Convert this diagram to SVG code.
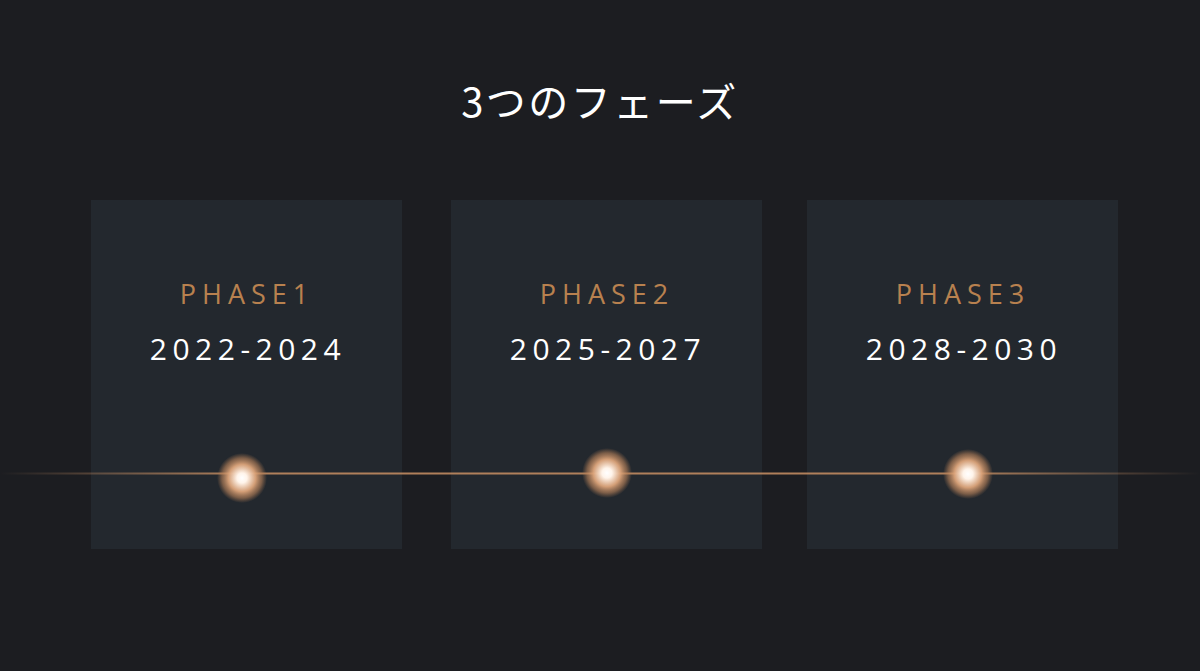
<svg xmlns="http://www.w3.org/2000/svg" width="1200" height="671" viewBox="0 0 1200 671">
<style>
.card{fill:#23282e}
.phase{font-family:"Open Sans","Noto Sans",sans-serif;font-size:27px;fill:#b8814f;letter-spacing:6px;text-anchor:middle}
.year{font-family:"Open Sans","Noto Sans",sans-serif;font-size:30px;font-weight:500;fill:#ffffff;letter-spacing:5.5px;text-anchor:middle}
.title{font-family:"Noto Sans CJK JP",sans-serif;font-size:40px;fill:#ffffff;letter-spacing:2.5px;text-anchor:middle}
</style>
<defs>
<linearGradient id="lineGrad" x1="0" y1="0" x2="1200" y2="0" gradientUnits="userSpaceOnUse">
<stop offset="0" stop-color="#c08a60" stop-opacity="0"/>
<stop offset="0.2" stop-color="#c08a60" stop-opacity="0.9"/>
<stop offset="0.8" stop-color="#c08a60" stop-opacity="0.9"/>
<stop offset="1" stop-color="#c08a60" stop-opacity="0"/>
</linearGradient>
<radialGradient id="glow">
<stop offset="0" stop-color="#ffffff"/>
<stop offset="0.2" stop-color="#fff4ea"/>
<stop offset="0.55" stop-color="#dca47a" stop-opacity="0.95"/>
<stop offset="0.8" stop-color="#b8825a" stop-opacity="0.6"/>
<stop offset="1" stop-color="#a8754f" stop-opacity="0"/>
</radialGradient>
</defs>
<rect width="1200" height="671" fill="#1c1d21"/>
<text class="title" x="600" y="117">3つのフェーズ</text>
<g id="phase1">
<rect class="card" x="91" y="200" width="311" height="349"/>
<text class="phase" x="247" y="304">PHASE1</text>
<text class="year" x="248" y="360">2022-2024</text>
</g>
<g id="phase2">
<rect class="card" x="451" y="200" width="311" height="349"/>
<text class="phase" x="607" y="304">PHASE2</text>
<text class="year" x="608" y="360">2025-2027</text>
</g>
<g id="phase3">
<rect class="card" x="807" y="200" width="311" height="349"/>
<text class="phase" x="963" y="304">PHASE3</text>
<text class="year" x="964" y="360">2028-2030</text>
</g>
<g id="connectors">
<rect x="0" y="472.5" width="1200" height="2" fill="url(#lineGrad)"/>
</g>
<g id="dots">
<circle cx="242" cy="478" r="25" fill="url(#glow)"/>
<circle cx="607" cy="473" r="25" fill="url(#glow)"/>
<circle cx="968" cy="474" r="25" fill="url(#glow)"/>
</g>
</svg>
